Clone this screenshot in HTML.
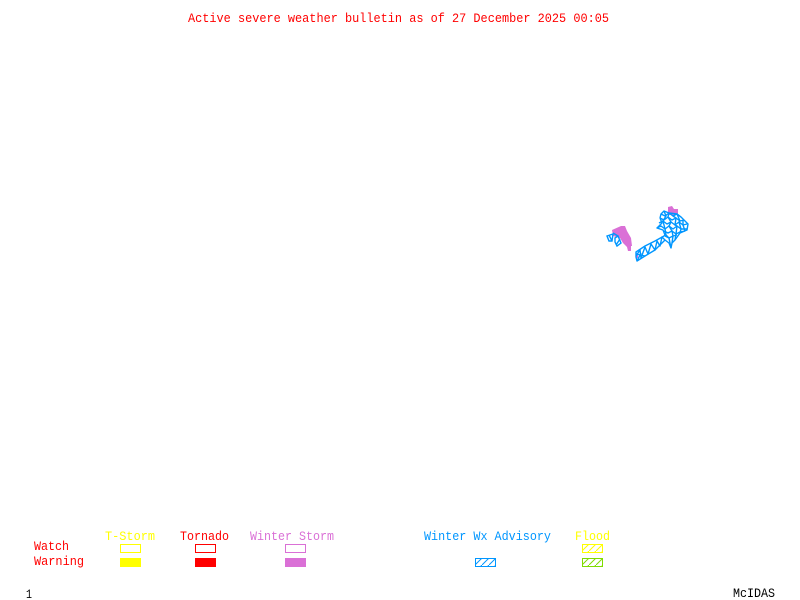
<!DOCTYPE html>
<html>
<head>
<meta charset="utf-8">
<style>
html,body{margin:0;padding:0;background:#fff;width:800px;height:600px;overflow:hidden}
svg{display:block}
text{font-family:"Liberation Mono",monospace;font-size:13px}
</style>
</head>
<body>
<svg width="800" height="600" viewBox="0 0 800 600" xmlns="http://www.w3.org/2000/svg">
<defs>
<pattern id="hb" width="7" height="7" patternUnits="userSpaceOnUse" patternTransform="translate(475 558)">
<path d="M-1 8L8 -1" stroke="#0096ff" stroke-width="1"/>
</pattern>
<pattern id="hy" width="7" height="7" patternUnits="userSpaceOnUse" patternTransform="translate(582 544)">
<path d="M-1 8L8 -1" stroke="#ffff00" stroke-width="1"/>
</pattern>
<pattern id="hg" width="7" height="7" patternUnits="userSpaceOnUse" patternTransform="translate(582 558)">
<path d="M-1 8L8 -1" stroke="#7fdc00" stroke-width="1"/>
</pattern>
</defs>
<rect width="800" height="600" fill="#fff"/>

<text x="188" y="22" fill="#ff0000" textLength="421" lengthAdjust="spacingAndGlyphs">Active severe weather bulletin as of 27 December 2025 00:05</text>

<!-- left area -->
<polygon fill="#da70d6" points="612,230 621,226 625,226 627,231 631,238 632,246 631,246 631,251 628,251 627,247 623,243 620,238 613,236"/>
<g fill="none" stroke="#0096ff" stroke-width="1.4">
<polygon points="607,236 613,234 612,241 609,241"/>
<polygon points="615,238 618,236 621,243 617,246 615,242"/>
<path d="M609,235L612,241M613,233L618,236M616,245L620,239"/>
</g>

<!-- right area -->
<polygon fill="#da70d6" points="668,207 672,206 674,209 678,209 678,215 668,215"/>
<polygon fill="#da70d6" points="636,253 638,253 638,258 636,258"/>
<g fill="none" stroke="#0096ff" stroke-width="1.4" stroke-linejoin="round">
<path d="M660,218L661,214L664,211L669,213L677,214L681,217L684,220L688,224L687,230L680,233L675,240L672,243L671,248L669,243L665,240L655,250L645,256L637,261L636,257L636,252L645,246L655,241L664,236L665,235L663,230L657,228L662,223L660,218"/>
<path d="M661,214L665,216L669,213L673,216L677,214L681,217"/>
<path d="M660,218L664,220L668,217L672,220L676,218L680,221L684,220"/>
<path d="M659,223L663,221L667,224L671,222L675,225L679,222L683,225L687,224"/>
<path d="M657,228L661,226L665,229L669,226L673,229L677,226L681,229L687,229"/>
<path d="M664,231L668,233L672,231L676,234L680,232L685,231"/>
<path d="M665,236L669,238L673,236L677,235"/>
<path d="M664,211L666,216L663,221L665,229L666,235L669,238L671,248"/>
<path d="M669,213L668,217L671,222L669,226L672,231L673,236L672,243"/>
<path d="M673,216L676,218L675,225L677,226L676,234L675,240"/>
<path d="M677,214L680,221L679,222L681,229L680,233"/>
<path d="M683,220L683,225L685,231"/>
<path d="M636,256L640,250L641,258L645,247L648,254L651,244L655,250L657,241L660,246L662,237L665,240"/>
<path d="M636,254L645,256M637,261L641,253"/>
</g>

<!-- legend text -->
<text x="105" y="540" fill="#ffff00" textLength="50" lengthAdjust="spacingAndGlyphs">T-Storm</text>
<text x="180" y="540" fill="#ff0000" textLength="49" lengthAdjust="spacingAndGlyphs">Tornado</text>
<text x="250" y="540" fill="#da70d6" textLength="84" lengthAdjust="spacingAndGlyphs">Winter Storm</text>
<text x="424" y="540" fill="#0096ff" textLength="127" lengthAdjust="spacingAndGlyphs">Winter Wx Advisory</text>
<text x="575" y="540" fill="#ffff00" textLength="35" lengthAdjust="spacingAndGlyphs">Flood</text>
<text x="34" y="550" fill="#ff0000" textLength="35" lengthAdjust="spacingAndGlyphs">Watch</text>
<text x="34" y="565" fill="#ff0000" textLength="50" lengthAdjust="spacingAndGlyphs">Warning</text>
<text x="26" y="598" fill="#000" textLength="6" lengthAdjust="spacingAndGlyphs">1</text>
<text x="733" y="597" fill="#000" textLength="42" lengthAdjust="spacingAndGlyphs">McIDAS</text>

<!-- legend boxes -->
<g shape-rendering="crispEdges">
<rect x="120.5" y="544.5" width="20" height="8" fill="none" stroke="#ffff00"/>
<rect x="195.5" y="544.5" width="20" height="8" fill="none" stroke="#ff0000"/>
<rect x="285.5" y="544.5" width="20" height="8" fill="none" stroke="#da70d6"/>
<rect x="120" y="558" width="21" height="9" fill="#ffff00"/>
<rect x="195" y="558" width="21" height="9" fill="#ff0000"/>
<rect x="285" y="558" width="21" height="9" fill="#da70d6"/>
</g>
<rect x="582.5" y="544.5" width="20" height="8" fill="url(#hy)" stroke="#ffff00" shape-rendering="crispEdges"/>
<rect x="475.5" y="558.5" width="20" height="8" fill="url(#hb)" stroke="#0096ff" shape-rendering="crispEdges"/>
<rect x="582.5" y="558.5" width="20" height="8" fill="url(#hg)" stroke="#7fdc00" shape-rendering="crispEdges"/>
</svg>
</body>
</html>
